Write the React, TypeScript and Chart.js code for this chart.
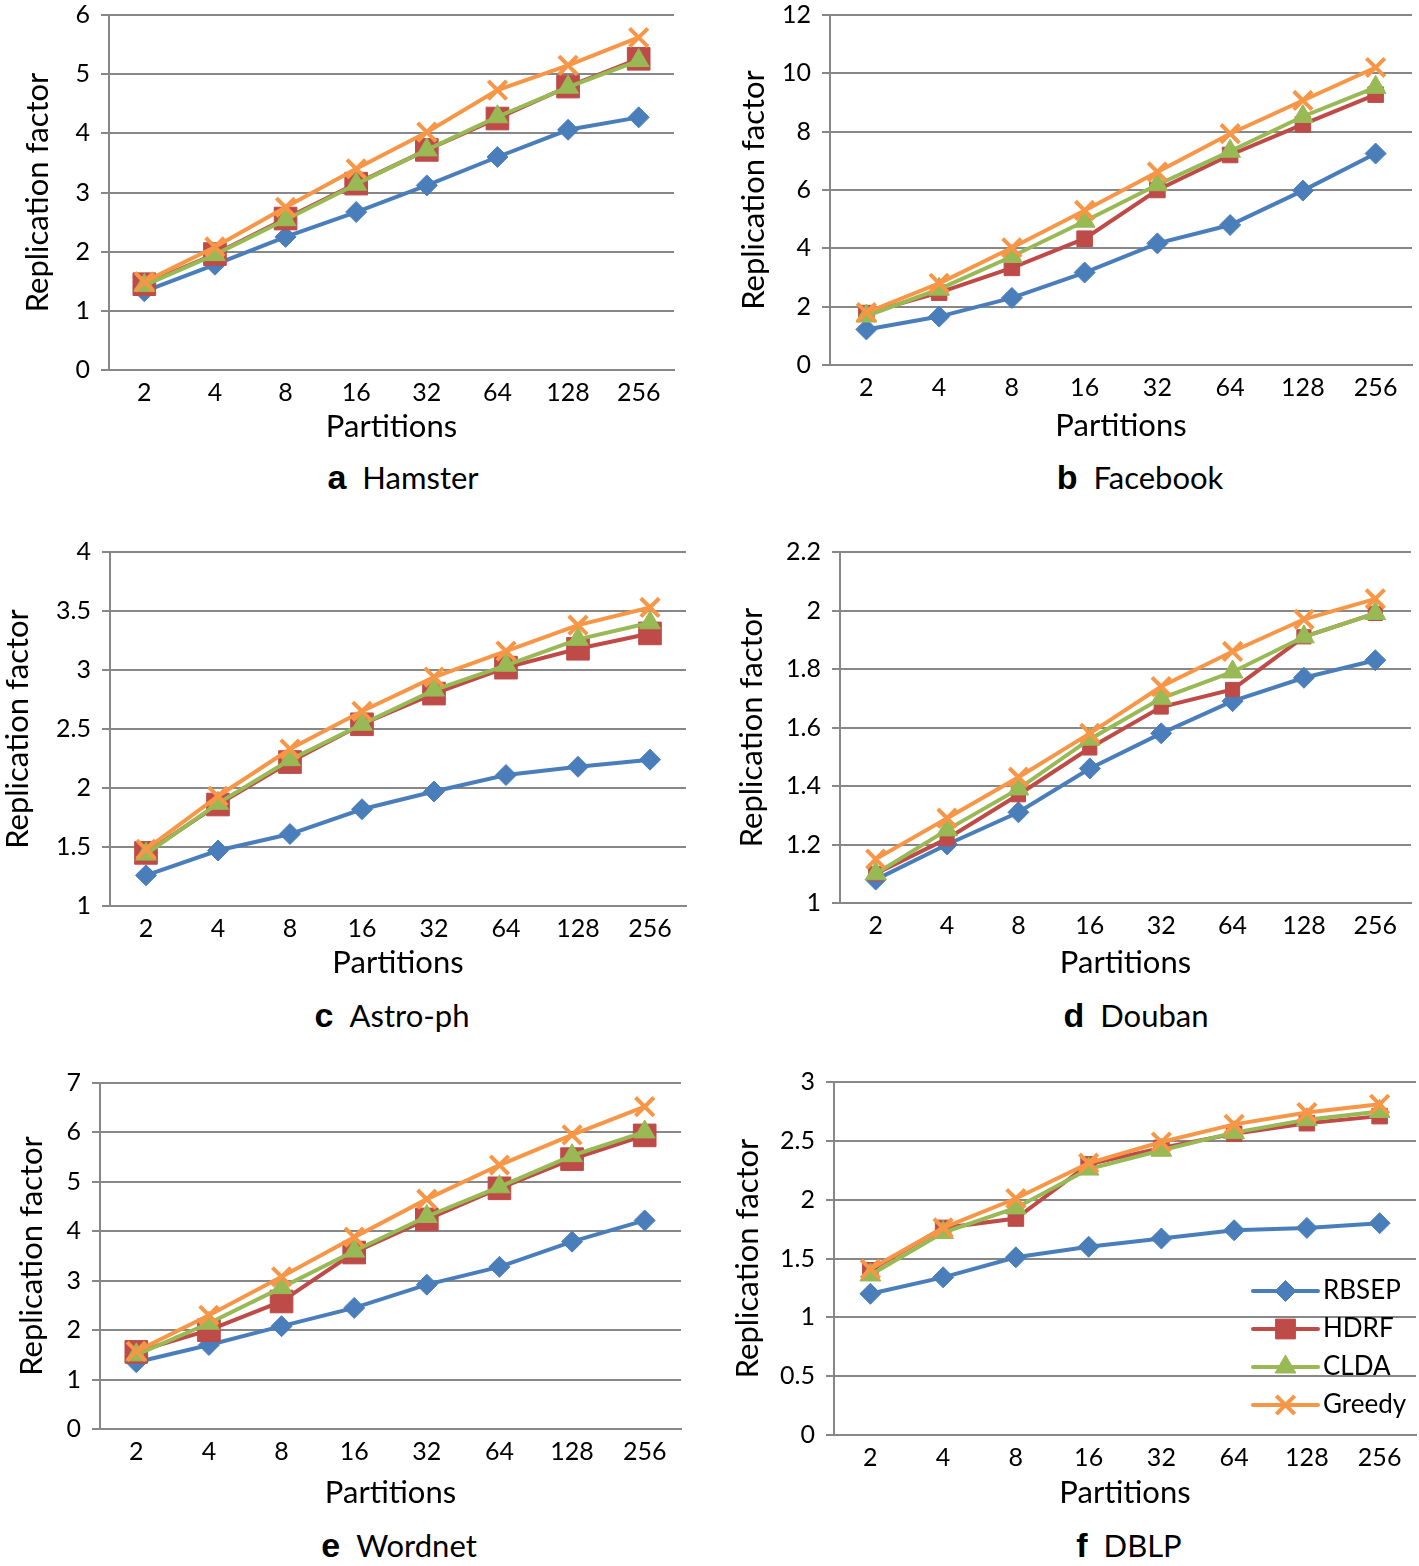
import React, { useEffect, useRef } from 'react';
import { Chart, registerables } from 'chart.js';
import { drawPoint } from 'chart.js/helpers';

Chart.register(...registerables);

// ---------- data ----------
const partitions = ['2', '4', '8', '16', '32', '64', '128', '256'];
const seriesNames = ['RBSEP', 'HDRF', 'CLDA', 'Greedy'];

const hamsterRBSEP = [1.33, 1.78, 2.25, 2.67, 3.12, 3.6, 4.06, 4.27];
const hamsterHDRF = [1.45, 1.96, 2.56, 3.15, 3.72, 4.25, 4.79, 5.26];
const hamsterCLDA = [1.43, 1.95, 2.54, 3.14, 3.72, 4.28, 4.78, 5.23];
const hamsterGreedy = [1.49, 2.08, 2.75, 3.4, 4.02, 4.73, 5.15, 5.62];

const facebookRBSEP = [1.22, 1.66, 2.3, 3.17, 4.17, 4.8, 5.98, 7.25];
const facebookHDRF = [1.78, 2.48, 3.33, 4.33, 6.0, 7.2, 8.25, 9.27];
const facebookCLDA = [1.68, 2.6, 3.72, 4.93, 6.18, 7.33, 8.52, 9.52];
const facebookGreedy = [1.8, 2.8, 4.02, 5.3, 6.62, 7.93, 9.07, 10.2];

const astroRBSEP = [1.26, 1.47, 1.61, 1.82, 1.97, 2.11, 2.18, 2.24];
const astroHDRF = [1.45, 1.86, 2.22, 2.54, 2.8, 3.02, 3.18, 3.31];
const astroCLDA = [1.44, 1.87, 2.24, 2.54, 2.83, 3.04, 3.26, 3.4];
const astroGreedy = [1.48, 1.93, 2.33, 2.65, 2.94, 3.16, 3.38, 3.53];

const doubanRBSEP = [1.08, 1.2, 1.31, 1.46, 1.58, 1.69, 1.77, 1.83];
const doubanHDRF = [1.1, 1.22, 1.37, 1.53, 1.67, 1.73, 1.91, 1.99];
const doubanCLDA = [1.1, 1.25, 1.39, 1.56, 1.7, 1.79, 1.91, 1.99];
const doubanGreedy = [1.15, 1.29, 1.43, 1.58, 1.74, 1.86, 1.97, 2.04];

const wordnetRBSEP = [1.35, 1.7, 2.08, 2.45, 2.92, 3.28, 3.79, 4.22];
const wordnetHDRF = [1.56, 2.0, 2.58, 3.57, 4.24, 4.87, 5.46, 5.94];
const wordnetCLDA = [1.5, 2.14, 2.86, 3.6, 4.3, 4.9, 5.53, 6.01];
const wordnetGreedy = [1.57, 2.3, 3.08, 3.88, 4.65, 5.34, 5.95, 6.52];

const dblpRBSEP = [1.2, 1.34, 1.51, 1.6, 1.67, 1.74, 1.76, 1.8];
const dblpHDRF = [1.4, 1.76, 1.84, 2.3, 2.44, 2.56, 2.65, 2.71];
const dblpCLDA = [1.36, 1.72, 1.93, 2.26, 2.42, 2.57, 2.68, 2.75];
const dblpGreedy = [1.41, 1.76, 2.01, 2.31, 2.49, 2.64, 2.74, 2.81];

// y-axis ranges [min, max, step]
const hamsterRange = [0, 6, 1];
const facebookRange = [0, 12, 2];
const astroRange = [1, 4, 0.5];
const doubanRange = [1, 2.2, 0.2];
const wordnetRange = [0, 7, 1];
const dblpRange = [0, 3, 0.5];

// ---------- styles / layout ----------
const FONT = 'Lato, "Open Sans", sans-serif';
const GRID = '#878787';
const TICK_SIZE = 25;
const TITLE_SIZE = 31;
const seriesStyles = [
  { color: '#4A7EBB', pointStyle: 'rectRot', radius: 10.5, pbw: 1 },
  { color: '#BE4B48', pointStyle: 'rect', radius: 14, pbw: 1 },
  { color: '#98B954', pointStyle: 'triangle', radius: 12, pbw: 1 },
  { color: '#F79646', pointStyle: 'crossRot', radius: 13, pbw: 4 },
];

const YW = 110; // y-axis box width
const XH = 80; // x-axis box height
const PT = 16; // top padding
const PR = 3; // right padding

type Cfg = {
  letter: string;
  name: string;
  series: number[][];
  range: number[];
  L: number; R: number; T: number; B: number;
  yTitleX: number; xTitleY: number;
  sq: number;
  capX: number; capY: number;
  legend?: boolean;
};

const charts: Cfg[] = [
  { letter: 'a', name: 'Hamster', series: [hamsterRBSEP, hamsterHDRF, hamsterCLDA, hamsterGreedy], range: hamsterRange,
    L: 109, R: 674, T: 15, B: 370, yTitleX: 38, xTitleY: 427, sq: 16, capX: 403, capY: 477 },
  { letter: 'b', name: 'Facebook', series: [facebookRBSEP, facebookHDRF, facebookCLDA, facebookGreedy], range: facebookRange,
    L: 830, R: 1412, T: 15, B: 365, yTitleX: 754, xTitleY: 426, sq: 11, capX: 1140, capY: 477 },
  { letter: 'c', name: 'Astro-ph', series: [astroRBSEP, astroHDRF, astroCLDA, astroGreedy], range: astroRange,
    L: 110, R: 686, T: 552, B: 906, yTitleX: 18, xTitleY: 963, sq: 16, capX: 392, capY: 1015 },
  { letter: 'd', name: 'Douban', series: [doubanRBSEP, doubanHDRF, doubanCLDA, doubanGreedy], range: doubanRange,
    L: 840, R: 1411, T: 552, B: 903, yTitleX: 752, xTitleY: 963, sq: 10, capX: 1136, capY: 1015 },
  { letter: 'e', name: 'Wordnet', series: [wordnetRBSEP, wordnetHDRF, wordnetCLDA, wordnetGreedy], range: wordnetRange,
    L: 100, R: 681, T: 1083, B: 1429, yTitleX: 32, xTitleY: 1493, sq: 16, capX: 399, capY: 1545 },
  { letter: 'f', name: 'DBLP', series: [dblpRBSEP, dblpHDRF, dblpCLDA, dblpGreedy], range: dblpRange,
    L: 834, R: 1416, T: 1082, B: 1435, yTitleX: 748, xTitleY: 1493, sq: 11, capX: 1129, capY: 1545, legend: true },
];

const legendYOffsets = [144, 106, 68, 30];

const insideLegend = {
  id: 'insideLegend',
  afterDatasetsDraw(chart: any) {
    const { ctx, chartArea } = chart;
    const x1 = chartArea.right - 163;
    const x2 = chartArea.right - 98;
    seriesNames.forEach((name, i) => {
      const st = seriesStyles[i];
      const y = chartArea.bottom - legendYOffsets[i];
      ctx.save();
      ctx.strokeStyle = st.color;
      ctx.lineWidth = 4;
      ctx.lineCap = 'round';
      ctx.beginPath();
      ctx.moveTo(x1, y);
      ctx.lineTo(x2, y);
      ctx.stroke();
      ctx.fillStyle = st.color;
      ctx.lineWidth = st.pbw;
      ctx.lineCap = 'butt';
      drawPoint(ctx, { pointStyle: st.pointStyle, radius: st.radius, rotation: 0, borderWidth: st.pbw } as any, (x1 + x2) / 2, y);
      ctx.fillStyle = '#000';
      ctx.font = `26px ${FONT}`;
      ctx.textBaseline = 'middle';
      ctx.textAlign = 'left';
      ctx.fillText(name, chartArea.right - 93, y);
      ctx.restore();
    });
  },
};

const zeroPad = (s: any) => {
  s.paddingLeft = 0;
  s.paddingRight = 0;
  s.paddingTop = 0;
  s.paddingBottom = 0;
};

function LineChart({ cfg }: { cfg: Cfg }) {
  const ref = useRef<HTMLCanvasElement>(null);
  const left = cfg.L - YW;
  const top = cfg.T - PT;
  const width = cfg.R + PR - left;
  const height = cfg.B + XH - top;

  useEffect(() => {
    if (!ref.current) return;
    const titleLH = TITLE_SIZE * 1.2;
    const chart = new Chart(ref.current, {
      type: 'line',
      data: {
        labels: partitions,
        datasets: cfg.series.map((vals, i) => {
          const st = seriesStyles[i];
          const r = i === 1 ? cfg.sq : st.radius;
          return {
            label: seriesNames[i],
            data: vals,
            borderColor: st.color,
            backgroundColor: st.color,
            borderWidth: 4,
            tension: 0,
            pointStyle: st.pointStyle as any,
            pointRadius: r,
            pointHoverRadius: r,
            pointBorderWidth: st.pbw,
            pointHoverBorderWidth: st.pbw,
            pointBorderColor: st.color,
            pointBackgroundColor: st.color,
            order: 4 - i,
          };
        }),
      },
      options: {
        responsive: false,
        animation: false,
        events: [],
        layout: { autoPadding: false, padding: { top: PT, right: PR, left: 0, bottom: 0 } },
        plugins: { legend: { display: false }, tooltip: { enabled: false } },
        scales: {
          x: {
            type: 'category',
            offset: true,
            grid: { display: false, drawTicks: false },
            border: { display: true, color: GRID, width: 2 },
            ticks: { color: '#000', font: { family: FONT, size: TICK_SIZE }, padding: 8, maxRotation: 0, autoSkip: false },
            title: {
              display: true,
              text: 'Partitions',
              color: '#000',
              font: { family: FONT, size: TITLE_SIZE, lineHeight: 1.2 },
              padding: { top: 0, bottom: XH - titleLH / 2 - (cfg.xTitleY - cfg.B) },
            },
            afterFit: (s: any) => {
              s.height = XH;
              zeroPad(s);
            },
          },
          y: {
            type: 'linear',
            min: cfg.range[0],
            max: cfg.range[1],
            grid: { color: GRID, lineWidth: 2, drawTicks: true, tickLength: 8, tickColor: GRID, tickWidth: 2 },
            border: { display: true, color: GRID, width: 2 },
            ticks: {
              stepSize: cfg.range[2],
              color: '#000',
              font: { family: FONT, size: TICK_SIZE },
              padding: 11,
              callback: (v: any) => String(Math.round(Number(v) * 100) / 100),
            },
            title: {
              display: true,
              text: 'Replication factor',
              color: '#000',
              font: { family: FONT, size: TITLE_SIZE, lineHeight: 1.2 },
              padding: { top: cfg.yTitleX - left - titleLH / 2, bottom: 0 },
            },
            afterFit: (s: any) => {
              s.width = YW;
              zeroPad(s);
            },
          },
        },
      },
      plugins: cfg.legend ? [insideLegend] : [],
    } as any);
    return () => chart.destroy();
  }, [cfg]);

  return (
    <canvas
      ref={ref}
      width={width}
      height={height}
      style={{ position: 'absolute', left, top, width, height }}
    />
  );
}

export default function App() {
  return (
    <div style={{ position: 'absolute', left: 0, top: 0, width: 1419, height: 1566, background: '#fff', overflow: 'hidden' }}>
      {charts.map((c) => (
        <React.Fragment key={c.letter}>
          <LineChart cfg={c} />
          <div
            style={{
              position: 'absolute',
              left: c.capX,
              top: c.capY - 20,
              height: 40,
              lineHeight: '40px',
              transform: 'translateX(-50%)',
              whiteSpace: 'nowrap',
              color: '#000',
            }}
          >
            <span style={{ fontFamily: '"Liberation Sans", Arial, sans-serif', fontWeight: 'bold', fontSize: 34 }}>{c.letter}</span>
            <span style={{ fontFamily: FONT, fontSize: 31, marginLeft: 16 }}>{c.name}</span>
          </div>
        </React.Fragment>
      ))}
    </div>
  );
}
